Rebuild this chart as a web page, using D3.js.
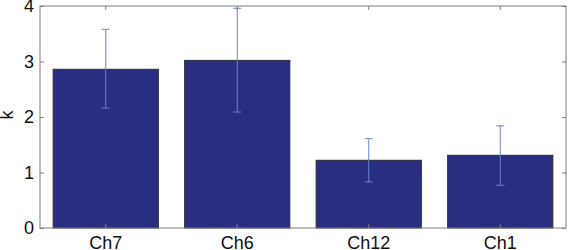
<!DOCTYPE html>
<html>
<head>
<meta charset="utf-8">
<script src="https://cdn.jsdelivr.net/npm/d3@7"></script>
<style>
  body { margin: 0; background: #fff; }
  text { font-family: "Liberation Sans", Arial, sans-serif; }
</style>
</head>
<body>
<div id="chart"></div>
<script>
const channels = ["Ch7", "Ch6", "Ch12", "Ch1"];
const kValues = [2.86, 3.02, 1.22, 1.31];
const errLow = [2.16, 2.09, 0.83, 0.77];
const errHigh = [3.58, 3.96, 1.61, 1.84];
const yTicks = [0, 1, 2, 3, 4];

const margin = { top: 6, right: 2, bottom: 22, left: 40 };
const width = 568 - margin.left - margin.right;
const height = 250 - margin.top - margin.bottom;

const svg = d3.select("#chart")
    .append("svg")
    .attr("width", 568)
    .attr("height", 250)
    .append("g")
    .attr("transform", `translate(${margin.left}, ${margin.top})`);

const xScale = d3.scaleBand()
    .domain(channels)
    .range([0, width])
    .paddingInner(0.2)
    .paddingOuter(0.1);

const yScale = d3.scaleLinear()
    .domain([0, 4])
    .range([height, 0]);

const axisColor = "#7f7f7f";

// bars
svg.selectAll(".bar")
    .data(channels)
    .enter()
    .append("rect")
    .attr("class", "bar")
    .attr("x", d => xScale(d))
    .attr("y", (d, i) => yScale(kValues[i]))
    .attr("width", xScale.bandwidth())
    .attr("height", (d, i) => height - yScale(kValues[i]))
    .style("fill", "#2a2e80")
    .style("stroke", "#2b2b3a")
    .style("stroke-width", 1);

// error bars
const errColor = "#6a84cc";
const cap = 4;
channels.forEach((c, i) => {
    const cx = xScale(c) + xScale.bandwidth() / 2;
    svg.append("line")
        .attr("x1", cx).attr("x2", cx)
        .attr("y1", yScale(errLow[i])).attr("y2", yScale(errHigh[i]))
        .style("stroke", errColor).style("stroke-width", 1);
    [errLow[i], errHigh[i]].forEach(v => {
        svg.append("line")
            .attr("x1", cx - cap).attr("x2", cx + cap)
            .attr("y1", yScale(v)).attr("y2", yScale(v))
            .style("stroke", errColor).style("stroke-width", 1);
    });
});

// box
svg.append("rect")
    .attr("x", 0).attr("y", 0)
    .attr("width", width).attr("height", height)
    .style("fill", "none")
    .style("stroke", axisColor)
    .style("stroke-width", 1);

// left axis
const leftAxis = svg.append("g")
    .call(d3.axisLeft(yScale).tickValues(yTicks).tickSize(-4).tickPadding(6).tickFormat(d3.format("d")));
// right axis ticks
const rightAxis = svg.append("g")
    .attr("transform", `translate(${width}, 0)`)
    .call(d3.axisRight(yScale).tickValues(yTicks).tickSize(-4).tickFormat(""));
// bottom axis
const bottomAxis = svg.append("g")
    .attr("transform", `translate(0, ${height})`)
    .call(d3.axisBottom(xScale).tickSize(-4).tickPadding(8));
// top axis ticks
const topAxis = svg.append("g")
    .call(d3.axisTop(xScale).tickSize(-4).tickFormat(""));

[leftAxis, rightAxis, bottomAxis, topAxis].forEach(g => {
    g.select(".domain").remove();
    g.selectAll(".tick line").style("stroke", axisColor);
    g.selectAll("text")
        .style("font-size", "18px")
        .style("fill", "#111");
});

svg.append("text")
    .attr("transform", "rotate(-90)")
    .attr("x", -109)
    .attr("y", -27)
    .style("text-anchor", "middle")
    .style("font-size", "18px")
    .style("fill", "#111")
    .text("k");
</script>
</body>
</html>
